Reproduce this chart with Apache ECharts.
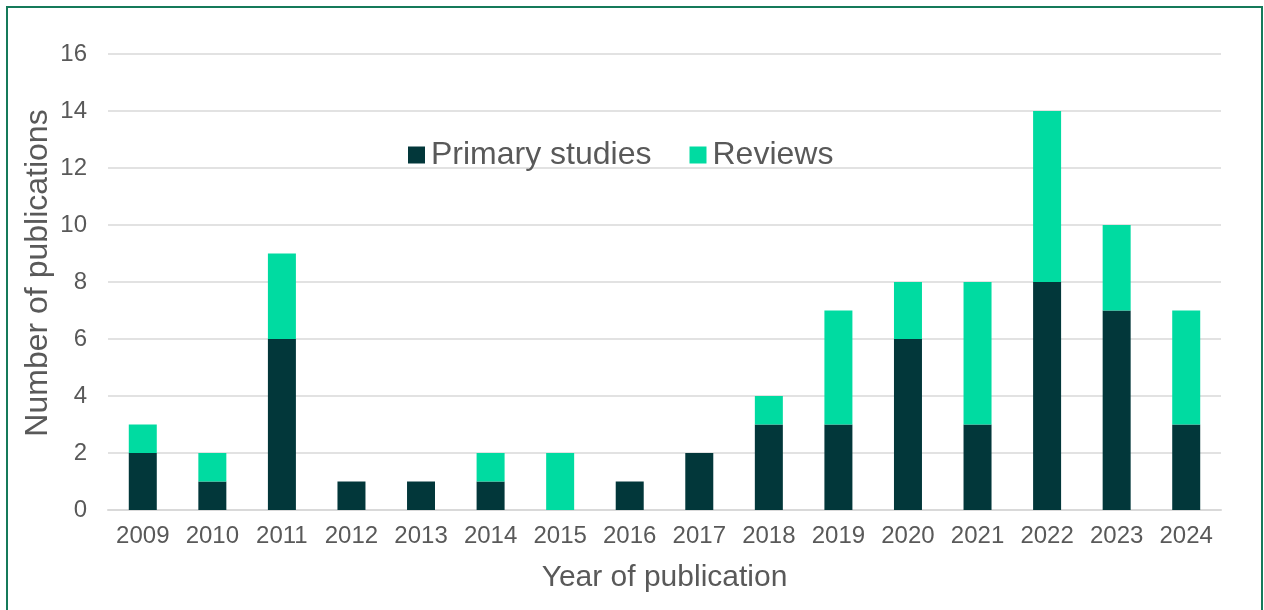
<!DOCTYPE html>
<html>
<head>
<meta charset="utf-8">
<script src="https://cdn.jsdelivr.net/npm/echarts@6/dist/echarts.min.js"></script>
<style>
  html, body { margin: 0; padding: 0; background: #fff; overflow: hidden; }
  #chart { width: 1264px; height: 610px; }
  #frame { position: absolute; left: 6px; top: 6px; width: 1253px; height: 640px;
           border: 2px solid #157a5a; pointer-events: none; }
</style>
</head>
<body>
<div id="chart"></div>
<div id="frame"></div>
<script>
  var years = ['2009', '2010', '2011', '2012', '2013', '2014', '2015', '2016',
               '2017', '2018', '2019', '2020', '2021', '2022', '2023', '2024'];
  var primaryStudies = [2, 1, 6, 1, 1, 1, 0, 1, 2, 3, 3, 6, 3, 8, 7, 3];
  var reviews = [1, 1, 3, 0, 0, 1, 2, 0, 0, 1, 4, 2, 5, 6, 3, 4];

  var font = '"Liberation Sans", Arial, sans-serif';
  var textColor = '#595959';

  var chart = echarts.init(document.getElementById('chart'));
  var option = {
    animation: false,
    textStyle: { fontFamily: font },
    grid: { left: 108, right: 43, top: 54, bottom: 100 },
    legend: {
      left: 403,
      top: 134,
      icon: 'rect',
      itemWidth: 17,
      itemHeight: 17,
      itemGap: 38,
      textStyle: { fontSize: 32, color: textColor, fontFamily: font, padding: [0, 0, 0, 1] },
      data: ['Primary studies', 'Reviews']
    },
    xAxis: {
      type: 'category',
      data: years,
      name: 'Year of publication',
      nameLocation: 'middle',
      nameGap: 53,
      nameTextStyle: { fontSize: 30, color: textColor, fontFamily: font },
      axisLine: { lineStyle: { color: '#d9d9d9', width: 2 } },
      axisTick: { show: false },
      axisLabel: { fontSize: 24, color: textColor, margin: 14, fontFamily: font }
    },
    yAxis: {
      type: 'value',
      min: 0,
      max: 16,
      interval: 2,
      name: 'Number of publications',
      nameLocation: 'middle',
      nameGap: 54,
      nameMoveOverlap: false,
      nameTextStyle: { fontSize: 32, color: textColor, fontFamily: font, padding: [0, 0, 0, 18] },
      axisLine: { show: false },
      axisTick: { show: false },
      axisLabel: { fontSize: 24, color: textColor, margin: 21, fontFamily: font },
      splitLine: { lineStyle: { color: '#d9d9d9', width: 1.5 } }
    },
    series: [
      {
        name: 'Primary studies',
        type: 'bar',
        stack: 'total',
        barWidth: 28,
        itemStyle: { color: '#02373a' },
        data: primaryStudies
      },
      {
        name: 'Reviews',
        type: 'bar',
        stack: 'total',
        barWidth: 28,
        itemStyle: { color: '#00dba1' },
        data: reviews
      }
    ]
  };
  chart.setOption(option);
</script>
</body>
</html>
